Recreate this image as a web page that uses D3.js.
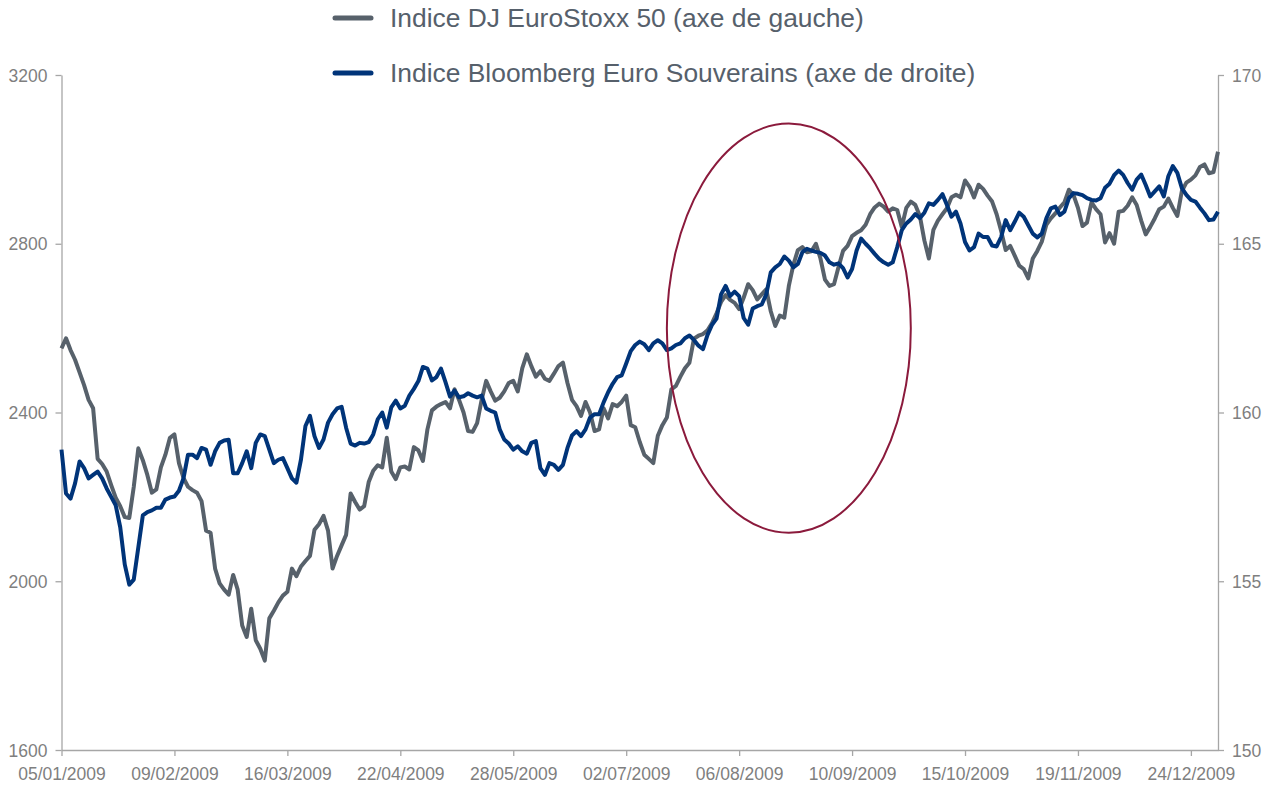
<!DOCTYPE html>
<html>
<head>
<meta charset="utf-8">
<script src="https://cdn.jsdelivr.net/npm/d3@7/dist/d3.min.js"></script>
<style>
  body { margin: 0; background: #ffffff; }
  svg { display: block; }
  .axis text { font-family: "Liberation Sans", Arial, sans-serif; font-size: 17.5px; fill: #7f7f7f; }
  .axis path, .axis line { stroke: #a6a6a6; stroke-width: 1.3; }
  .legend text { font-family: "Liberation Sans", Arial, sans-serif; font-size: 26.4px; fill: #56606b; }
</style>
</head>
<body>
<script>
'use strict';

// trading-day labels shown under the axis (one every 25 sessions)
const tickLabels = ["05/01/2009", "09/02/2009", "16/03/2009", "22/04/2009", "28/05/2009",
  "02/07/2009", "06/08/2009", "10/09/2009", "15/10/2009", "19/11/2009", "24/12/2009"];
const tickStep = 25;

const leftTicks = [1600, 2000, 2400, 2800, 3200];
const rightTicks = [150, 155, 160, 165, 170];

const seriesNames = ["Indice DJ EuroStoxx 50 (axe de gauche)",
  "Indice Bloomberg Euro Souverains (axe de droite)"];

// DJ EuroStoxx 50, daily close (left axis)
const euroStoxx = [
  2552, 2576, 2548, 2525, 2495, 2465, 2430, 2410, 2290, 2278,
  2260, 2228, 2198, 2178, 2152, 2150, 2224, 2315, 2287, 2252,
  2210, 2218, 2270, 2300, 2340, 2348, 2280, 2245, 2224, 2216,
  2210, 2190, 2120, 2115, 2030, 1995, 1980, 1968, 2015, 1980,
  1895, 1868, 1935, 1860, 1840, 1812, 1912, 1930, 1950, 1966,
  1975, 2030, 2012, 2035, 2048, 2060, 2122, 2135, 2155, 2120,
  2030, 2060, 2085, 2110, 2208, 2188, 2170, 2178, 2235, 2262,
  2275, 2270, 2340, 2260, 2242, 2270, 2272, 2265, 2318, 2310,
  2285, 2360, 2405, 2414, 2420, 2425, 2410, 2455, 2430, 2400,
  2356, 2354, 2375, 2430, 2475, 2450, 2428, 2435, 2450, 2470,
  2475, 2450, 2505, 2538, 2510, 2485, 2498, 2480, 2475, 2492,
  2510, 2518, 2470, 2430, 2415, 2392, 2425, 2400, 2356, 2360,
  2410, 2386, 2420, 2415, 2425, 2440, 2370, 2365, 2330, 2300,
  2290, 2280, 2345, 2370, 2388, 2455, 2463, 2485, 2505, 2518,
  2575, 2582, 2586, 2595, 2612, 2635, 2662, 2678, 2667, 2660,
  2645, 2672, 2704, 2690, 2668, 2680, 2692, 2640, 2605, 2630,
  2625, 2700, 2750, 2785, 2792, 2780, 2782, 2800, 2765, 2715,
  2700, 2704, 2745, 2783, 2795, 2818, 2826, 2832, 2845, 2870,
  2886, 2895, 2888, 2876, 2884, 2880, 2840, 2885, 2900, 2892,
  2866, 2808, 2765, 2833, 2855, 2870, 2884, 2910, 2916, 2910,
  2950, 2935, 2910, 2940, 2930, 2914, 2900, 2870, 2830, 2785,
  2795, 2772, 2748, 2740, 2718, 2765, 2783, 2805, 2845, 2860,
  2872, 2886, 2898, 2928, 2916, 2885, 2842, 2850, 2898, 2882,
  2870, 2803, 2825, 2800, 2876, 2878, 2890, 2910, 2892, 2855,
  2822, 2840, 2860, 2882, 2888, 2907, 2885, 2866, 2925, 2945,
  2952, 2962, 2982, 2988, 2967, 2970, 3018
];

// Bloomberg Euro sovereign index (right axis)
const bloombergSov = [
  158.9, 157.6, 157.45, 157.9, 158.55, 158.35, 158.05, 158.15, 158.25, 158.05,
  157.75, 157.5, 157.25, 156.6, 155.5, 154.9, 155.05, 156.0, 156.95, 157.05,
  157.1, 157.18, 157.18, 157.42, 157.48, 157.51, 157.68, 158.05, 158.75, 158.75,
  158.65, 158.95, 158.9, 158.45, 158.85, 159.1, 159.17, 159.19, 158.2, 158.2,
  158.5, 158.85, 158.35, 159.1, 159.35, 159.3, 158.9, 158.5, 158.6, 158.65,
  158.35, 158.05, 157.92, 158.6, 159.6, 159.9, 159.3, 158.95, 159.2, 159.7,
  159.95, 160.12, 160.17, 159.55, 159.08, 159.02, 159.1, 159.08, 159.12, 159.35,
  159.8, 160.0, 159.55, 160.15, 160.35, 160.12, 160.2, 160.5, 160.7, 160.93,
  161.35, 161.3, 160.95, 161.05, 161.3, 160.9, 160.47, 160.65, 160.45, 160.48,
  160.57, 160.5, 160.45, 160.5, 160.12, 160.05, 160.0, 159.5, 159.2, 159.08,
  158.9, 159.0, 158.85, 158.78, 159.1, 159.15, 158.35, 158.15, 158.5, 158.45,
  158.3, 158.45, 158.95, 159.32, 159.45, 159.3, 159.5, 159.85, 159.95, 159.95,
  160.3, 160.6, 160.85, 161.05, 161.1, 161.45, 161.82, 162.0, 162.1, 162.02,
  161.85, 162.05, 162.14, 162.05, 161.85, 161.9, 162.0, 162.05, 162.2, 162.28,
  162.15, 161.98, 161.88, 162.3, 162.6, 162.78, 163.5, 163.75, 163.45, 163.58,
  163.45, 162.8, 162.6, 163.08, 163.15, 163.2, 163.5, 164.15, 164.3, 164.4,
  164.62, 164.5, 164.3, 164.4, 164.75, 164.85, 164.8, 164.76, 164.73, 164.65,
  164.45, 164.38, 164.42, 164.28, 164.0, 164.25, 164.8, 165.15, 165.0, 164.86,
  164.7, 164.55, 164.45, 164.38, 164.45, 164.9, 165.4, 165.6, 165.72, 165.88,
  165.76, 165.92, 166.2, 166.15, 166.3, 166.47, 166.15, 165.8, 165.95, 165.6,
  165.05, 164.8, 164.9, 165.3, 165.2, 165.2, 164.95, 164.92, 165.2, 165.7,
  165.4, 165.65, 165.92, 165.8, 165.55, 165.3, 165.19, 165.3, 165.75, 166.05,
  166.1, 165.85, 165.95, 166.35, 166.5, 166.48, 166.44, 166.35, 166.3, 166.28,
  166.35, 166.66, 166.78, 167.03, 167.17, 167.04, 166.8, 166.6, 166.9, 167.05,
  166.74, 166.4, 166.55, 166.7, 166.4, 167.0, 167.3, 167.1, 166.65, 166.45,
  166.3, 166.25, 166.07, 165.9, 165.7, 165.72, 165.95
];

// highlighted zone (session index / left-axis value)
const highlight = { centre: 161, halfWidth: 27, top: 3085, bottom: 2115 };

(function() {

  const width = 1265, height = 786;
  const plot = { left: 61.5, right: 1218, top: 75, bottom: 750 };
  const colors = { stoxx: "#57616b", bloomberg: "#003479", circle: "#8b1a3c" };

  let svgContainer = "";

  window.onload = function() {
    svgContainer = d3.select('body')
      .append('svg')
      .attr('width', width)
      .attr('height', height);
    makeChart();
  }

  function makeChart() {
    const n = euroStoxx.length;

    // x scale over trading sessions
    const xScale = d3.scaleLinear()
      .domain([0, n - 1])
      .range([plot.left, plot.right]);

    const yLeft = d3.scaleLinear()
      .domain([1600, 3200])
      .range([plot.bottom, plot.top]);

    const yRight = d3.scaleLinear()
      .domain([150, 170])
      .range([plot.bottom, plot.top]);

    // left axis
    svgContainer.append('g')
      .attr('class', 'axis')
      .attr('transform', 'translate(' + plot.left + ',0)')
      .call(d3.axisLeft(yLeft).tickValues(leftTicks).tickFormat(d3.format('d'))
        .tickSize(6).tickSizeOuter(0).tickPadding(8))
      .call(g => g.selectAll('text').attr('dy', '0.35em'));

    // right axis
    svgContainer.append('g')
      .attr('class', 'axis')
      .attr('transform', 'translate(' + plot.right + ',0)')
      .call(d3.axisRight(yRight).tickValues(rightTicks).tickFormat(d3.format('d'))
        .tickSize(6).tickSizeOuter(0).tickPadding(8))
      .call(g => g.selectAll('text').attr('dy', '0.35em'));

    // bottom axis with date labels
    const tickIdx = tickLabels.map((d, i) => i * tickStep);
    svgContainer.append('g')
      .attr('class', 'axis')
      .attr('transform', 'translate(0,' + plot.bottom + ')')
      .call(d3.axisBottom(xScale)
        .tickValues(tickIdx)
        .tickFormat((d, i) => tickLabels[i])
        .tickSize(6)
        .tickSizeOuter(0)
        .tickPadding(12));

    // lines
    const stoxxLine = d3.line()
      .x((d, i) => xScale(i))
      .y(d => yLeft(d));

    const bbLine = d3.line()
      .x((d, i) => xScale(i))
      .y(d => yRight(d));

    svgContainer.append('path')
      .datum(euroStoxx)
      .attr('d', stoxxLine)
      .attr('fill', 'none')
      .attr('stroke', colors.stoxx)
      .attr('stroke-width', 4)
      .attr('stroke-linejoin', 'round');

    svgContainer.append('path')
      .datum(bloombergSov)
      .attr('d', bbLine)
      .attr('fill', 'none')
      .attr('stroke', colors.bloomberg)
      .attr('stroke-width', 4)
      .attr('stroke-linejoin', 'round');

    // highlight ellipse
    const cx = xScale(highlight.centre);
    const rx = xScale(highlight.centre + highlight.halfWidth) - cx;
    const yTop = yLeft(highlight.top), yBot = yLeft(highlight.bottom);
    svgContainer.append('ellipse')
      .attr('cx', cx)
      .attr('cy', (yTop + yBot) / 2)
      .attr('rx', rx)
      .attr('ry', (yBot - yTop) / 2)
      .attr('fill', 'none')
      .attr('stroke', colors.circle)
      .attr('stroke-width', 2);

    makeLegend();
  }

  // legend at the top
  function makeLegend() {
    const legend = svgContainer.append('g').attr('class', 'legend');
    const entries = [
      { name: seriesNames[0], color: colors.stoxx, y: 18 },
      { name: seriesNames[1], color: colors.bloomberg, y: 73 }
    ];
    entries.forEach(e => {
      legend.append('line')
        .attr('x1', 335).attr('x2', 371)
        .attr('y1', e.y).attr('y2', e.y)
        .attr('stroke', e.color)
        .attr('stroke-width', 5)
        .attr('stroke-linecap', 'round');
      legend.append('text')
        .attr('x', 390)
        .attr('y', e.y)
        .attr('dy', '0.35em')
        .text(e.name);
    });
  }

})();
</script>
</body>
</html>
